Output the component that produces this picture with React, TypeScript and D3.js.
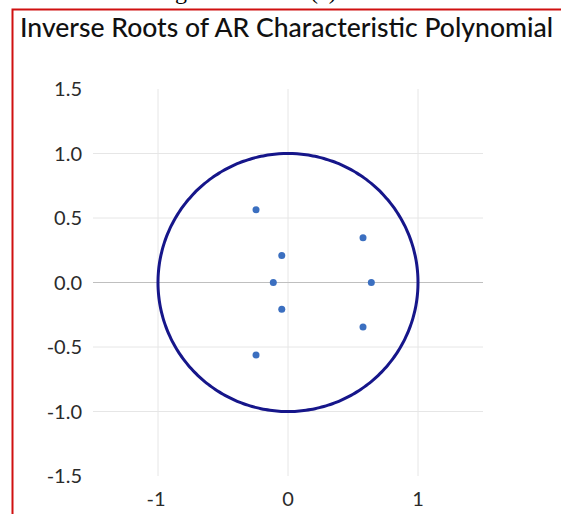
import React from "react";
import * as d3 from "d3";

const title = "Inverse Roots of AR Characteristic Polynomial";
const rootRe = [-0.246, 0.577, -0.048, -0.113, 0.641, -0.048, 0.577, -0.246];
const rootIm = [0.564, 0.347, 0.21, 0.0, 0.0, -0.208, -0.345, -0.562];
const xTicks = [-1, 0, 1];
const yTicks = [1.5, 1.0, 0.5, 0.0, -0.5, -1.0, -1.5];
const yGrid = [1.0, 0.5, 0.0, -0.5, -1.0];

const fmt = (f: string) => (v: number) => d3.format(f)(v).replace("\u2212", "-");

export default function App() {
  const W = 561, H = 514;
  const x = d3.scaleLinear().domain([-1.5, 1.5]).range([93, 483]);
  const y = d3.scaleLinear().domain([-1.5, 1.5]).range([476, 89]);
  const angles = d3.range(0, 360, 2);
  const circlePath = d3
    .line<number>()
    .x((a) => x(Math.cos((a * Math.PI) / 180)))
    .y((a) => y(Math.sin((a * Math.PI) / 180)))
    .curve(d3.curveCatmullRomClosed)(angles);
  const font = "Lato, 'Open Sans', sans-serif";
  return (
    <svg width={W} height={H} style={{ position: "absolute", left: 0, top: 0, background: "#fff" }}>
      <text x={155} y={-1} fontFamily="'Liberation Serif', serif" fontSize={24} fill="#000">Figure</text>
      <text x={310} y={-1} fontFamily="'Liberation Serif', serif" fontSize={24} fill="#000">(a)</text>
      <path d={`M12.5,${H} V9.5 H${W}`} fill="none" stroke="#d01010" strokeWidth={2} />
      <text x={20} y={37} fontFamily={font} fontSize={26} fontWeight={500} fill="#111" textLength={533} lengthAdjust="spacingAndGlyphs">
        {title}
      </text>
      {xTicks.map((t) => (
        <line key={"vx" + t} x1={x(t)} x2={x(t)} y1={y(1.5)} y2={y(-1.5)} stroke="#e6e6e6" strokeWidth={1} />
      ))}
      {yGrid.map((t) => (
        <line key={"hy" + t} x1={x(-1.5)} x2={x(1.5)} y1={y(t)} y2={y(t)} stroke={t === 0 ? "#bfbfbf" : "#e6e6e6"} strokeWidth={1} />
      ))}
      {yTicks.map((t) => (
        <text key={"yl" + t} x={82} y={y(t)} dy="0.36em" textAnchor="end" fontFamily={font} fontSize={20} fill="#2b2b2b">
          {fmt(".1f")(t)}
        </text>
      ))}
      {xTicks.map((t) => (
        <text key={"xl" + t} x={x(t) + (t < 0 ? -2 : 0)} y={499} dy="0.36em" textAnchor="middle" fontFamily={font} fontSize={20} fill="#2b2b2b">
          {fmt("d")(t)}
        </text>
      ))}
      <path d={circlePath || ""} fill="none" stroke="#16168a" strokeWidth={3} />
      {rootRe.map((re, i) => (
        <circle key={"p" + i} cx={x(re)} cy={y(rootIm[i])} r={3.5} fill="#3b6fc0" />
      ))}
    </svg>
  );
}
